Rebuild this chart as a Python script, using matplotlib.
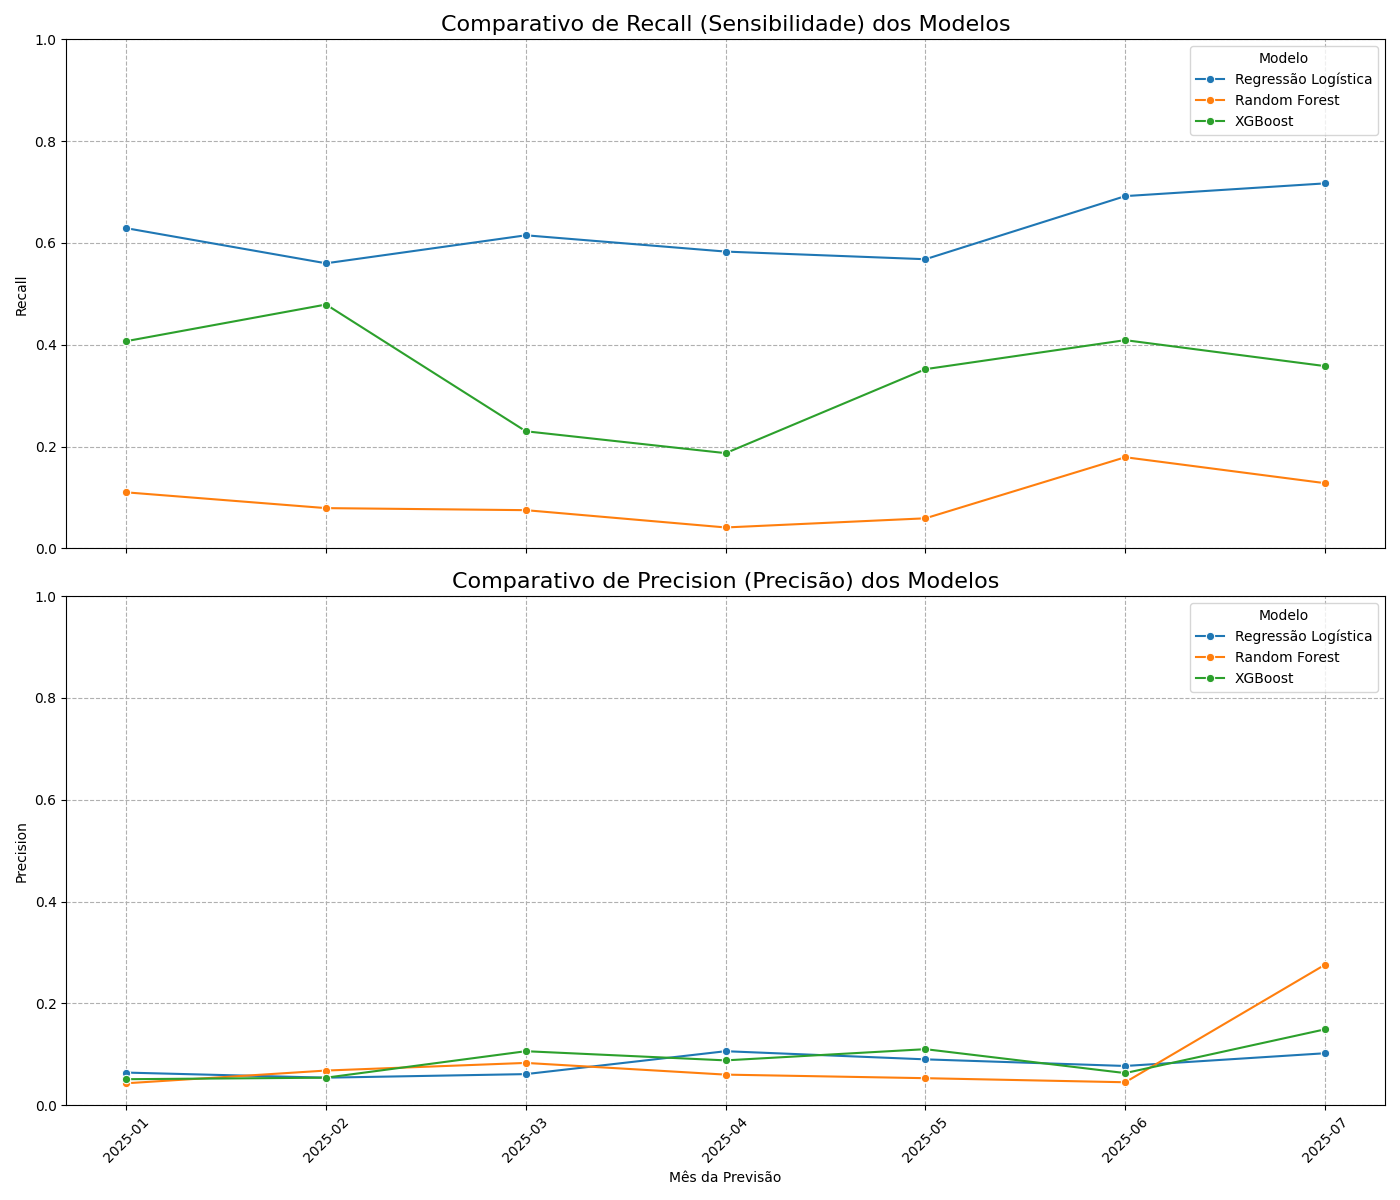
import matplotlib
matplotlib.use("Agg")
import matplotlib.pyplot as plt
import pandas as pd
import seaborn as sns

# months and model names
meses = ['2025-01', '2025-02', '2025-03', '2025-04', '2025-05', '2025-06', '2025-07']
modelos = ['Regressão Logística', 'Random Forest', 'XGBoost']

# recall per model
recall_lr = [0.629, 0.560, 0.615, 0.583, 0.568, 0.692, 0.717]
recall_rf = [0.110, 0.079, 0.075, 0.041, 0.059, 0.179, 0.128]
recall_xgb = [0.407, 0.479, 0.230, 0.187, 0.352, 0.409, 0.358]

# precision per model
precision_lr = [0.064, 0.054, 0.061, 0.106, 0.090, 0.077, 0.102]
precision_rf = [0.043, 0.068, 0.083, 0.060, 0.053, 0.045, 0.276]
precision_xgb = [0.051, 0.054, 0.106, 0.088, 0.110, 0.063, 0.149]

# build a long dataframe for seaborn
rows = []
for modelo, rec, prec in zip(modelos,
                             [recall_lr, recall_rf, recall_xgb],
                             [precision_lr, precision_rf, precision_xgb]):
    for mes, r, p in zip(meses, rec, prec):
        rows.append({'Mês': mes, 'Modelo': modelo, 'Recall': r, 'Precision': p})
df = pd.DataFrame(rows)

fig, axes = plt.subplots(2, 1, figsize=(14, 12), sharex=True)

sns.lineplot(data=df, x='Mês', y='Recall', hue='Modelo', marker='o', ax=axes[0])
axes[0].set_title('Comparativo de Recall (Sensibilidade) dos Modelos', fontsize=16)
axes[0].set_ylabel('Recall')
axes[0].set_ylim(0, 1)
axes[0].grid(True, linestyle='--')
axes[0].legend(title='Modelo', loc='upper right')

sns.lineplot(data=df, x='Mês', y='Precision', hue='Modelo', marker='o', ax=axes[1])
axes[1].set_title('Comparativo de Precision (Precisão) dos Modelos', fontsize=16)
axes[1].set_ylabel('Precision')
axes[1].set_xlabel('Mês da Previsão')
axes[1].set_ylim(0, 1)
axes[1].grid(True, linestyle='--')
axes[1].legend(title='Modelo', loc='upper right')

plt.setp(axes[1].get_xticklabels(), rotation=45)
plt.tight_layout()
plt.savefig('out.png', dpi=100)
